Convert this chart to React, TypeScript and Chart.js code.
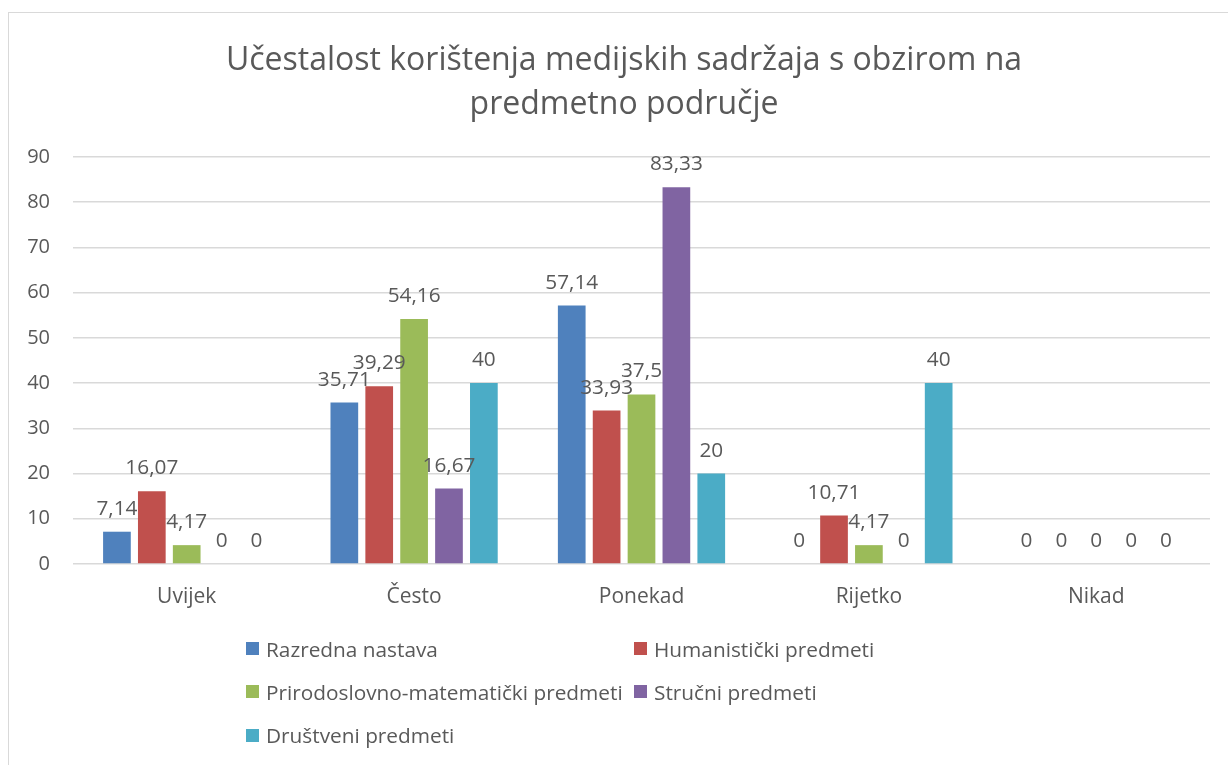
import React, { useEffect, useRef } from "react";
import { Chart, registerables } from "chart.js";

Chart.register(...registerables);

const titleLines: string[] = [
  "Učestalost korištenja medijskih sadržaja s obzirom na",
  "predmetno područje",
];
const categories: string[] = ["Uvijek", "Često", "Ponekad", "Rijetko", "Nikad"];
const seriesNames: string[] = [
  "Razredna nastava",
  "Humanistički predmeti",
  "Prirodoslovno-matematički predmeti",
  "Stručni predmeti",
  "Društveni predmeti",
];
const seriesColors: string[] = ["#4F81BD", "#C0504D", "#9BBB59", "#8064A2", "#4BACC6"];
const razrednaNastava: number[] = [7.14, 35.71, 57.14, 0, 0];
const humanisticki: number[] = [16.07, 39.29, 33.93, 10.71, 0];
const prirodoslovno: number[] = [4.17, 54.16, 37.5, 4.17, 0];
const strucni: number[] = [0, 16.67, 83.33, 0, 0];
const drustveni: number[] = [0, 40, 20, 40, 0];
const seriesValues: number[][] = [razrednaNastava, humanisticki, prirodoslovno, strucni, drustveni];
const yTicks: number[] = [0, 10, 20, 30, 40, 50, 60, 70, 80, 90];

const FONT = "'Open Sans', 'Noto Sans', sans-serif";
const TEXT = "#595959";
const GRID = "#D9D9D9";

const fmt = (v: number) => String(v).replace(".", ",");

const valueLabels = {
  id: "valueLabels",
  afterDatasetsDraw(chart: any) {
    const ctx = chart.ctx;
    ctx.save();
    ctx.font = `20.8px ${FONT}`;
    ctx.fillStyle = TEXT;
    ctx.textAlign = "center";
    ctx.textBaseline = "alphabetic";
    chart.data.datasets.forEach((ds: any, di: number) => {
      const meta = chart.getDatasetMeta(di);
      meta.data.forEach((bar: any, i: number) => {
        ctx.fillText(fmt(ds.data[i]), bar.x, bar.y - 17);
      });
    });
    ctx.restore();
  },
};

const chartTitle = {
  id: "chartTitle",
  afterDraw(chart: any) {
    const ctx = chart.ctx;
    ctx.save();
    ctx.font = `32px ${FONT}`;
    ctx.fillStyle = TEXT;
    ctx.textAlign = "center";
    ctx.textBaseline = "alphabetic";
    titleLines.forEach((line, i) => {
      ctx.fillText(line, 624, 70 + i * 44);
    });
    ctx.restore();
  },
};

export default function App() {
  const ref = useRef<HTMLCanvasElement | null>(null);

  useEffect(() => {
    if (!ref.current) return;
    const chart = new Chart(ref.current, {
      type: "bar",
      data: {
        labels: categories,
        datasets: seriesNames.map((name, i) => ({
          label: name,
          data: seriesValues[i],
          backgroundColor: seriesColors[i],
          borderWidth: 0,
          categoryPercentage: 0.767,
          barPercentage: 0.794,
        })),
      },
      options: {
        responsive: false,
        animation: false,
        devicePixelRatio: 1,
        layout: { padding: { left: 0, right: 18, top: 157, bottom: 141 } },
        plugins: {
          legend: { display: false },
          tooltip: { enabled: false },
          title: { display: false },
        },
        scales: {
          x: {
            grid: { display: false },
            border: { display: false },
            ticks: { color: TEXT, font: { family: FONT, size: 21 }, padding: 12 },
            afterFit: (s: any) => {
              s.height = 60;
            },
          },
          y: {
            min: 0,
            max: 90,
            afterBuildTicks: (s: any) => {
              s.ticks = yTicks.map((v) => ({ value: v }));
            },
            grid: { color: GRID, lineWidth: 1.5, drawTicks: false },
            border: { display: false },
            ticks: { color: TEXT, font: { family: FONT, size: 20 }, padding: 23 },
            afterFit: (s: any) => {
              s.width = 73;
            },
          },
        },
      },
      plugins: [valueLabels, chartTitle],
    });
    return () => chart.destroy();
  }, []);

  return (
    <div style={{ position: "absolute", left: 0, top: 0, width: 1228, height: 765, background: "#fff", overflow: "hidden" }}>
      <div
        style={{
          position: "absolute",
          left: 8,
          top: 12,
          width: 1240,
          height: 780,
          borderLeft: `1.5px solid ${GRID}`,
          borderTop: `1.5px solid ${GRID}`,
        }}
      />
      <canvas ref={ref} width={1228} height={765} style={{ position: "absolute", left: 0, top: 0 }} />
      {seriesNames.map((name, i) => {
        const col = i % 2;
        const row = Math.floor(i / 2);
        const left = col === 0 ? 246 : 634;
        const top = 638.5 + row * 43.3;
        return (
          <div
            key={name}
            style={{
              position: "absolute",
              left,
              top,
              height: 20,
              display: "flex",
              alignItems: "center",
              whiteSpace: "nowrap",
              fontFamily: FONT,
              fontSize: 20.8,
              lineHeight: "20px",
              color: TEXT,
            }}
          >
            <span style={{ display: "inline-block", width: 13, height: 13, background: seriesColors[i], marginRight: 7 }} />
            <span>{name}</span>
          </div>
        );
      })}
    </div>
  );
}
